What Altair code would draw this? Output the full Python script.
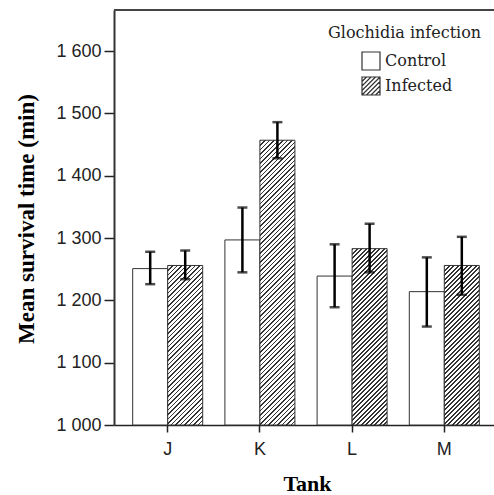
import altair as alt
import pandas as pd

# ---- data ----
tanks = ["J", "K", "L", "M"]
groups = ["Control", "Infected"]
control_mean = [1251, 1297, 1239, 1214]
control_low = [1226, 1245, 1189, 1158]
control_high = [1278, 1349, 1290, 1269]
infected_mean = [1256, 1457, 1283, 1256]
infected_low = [1234, 1428, 1245, 1209]
infected_high = [1280, 1486, 1323, 1302]
y_ticks = [1000, 1100, 1200, 1300, 1400, 1500, 1600]

Y_MIN, Y_MAX = 1000, 1666
W, H = 380, 415
INK = "#333333"
BG = "#e8e8e8"

rows = []
for i, t in enumerate(tanks):
    rows.append(dict(tank=t, group="Control", mean=control_mean[i],
                     low=control_low[i], high=control_high[i]))
    rows.append(dict(tank=t, group="Infected", mean=infected_mean[i],
                     low=infected_low[i], high=infected_high[i]))
df = pd.DataFrame(rows)

P_INNER, P_OUTER, ALIGN = 0.2408, 0.1811, 0.56
step = W / (len(tanks) - P_INNER + 2 * P_OUTER)
bar_w = step * (1 - P_INNER) / 2.0


def hatch(h_px, w_px=bar_w, period=4.5, dark=1.8):
    L = w_px + h_px
    a = L / (w_px ** 2 + h_px ** 2)
    stops = []
    pos = 0.0
    while pos < L - 1e-9:
        t0 = pos / L
        t1 = min((pos + dark) / L, 1.0)
        t2 = min((pos + period) / L, 1.0)
        stops += [{"offset": t0, "color": INK}, {"offset": t1, "color": INK},
                  {"offset": t1, "color": "white"}, {"offset": t2, "color": "white"}]
        pos += period
    return {"gradient": "linear", "x1": 0, "y1": 0, "x2": a * w_px, "y2": a * h_px,
            "stops": stops}


x_axis = alt.Axis(title="Tank", labelAngle=0, labelFont="Liberation Sans", labelFontSize=18,
                  labelColor="#222", labelPadding=8, tickSize=7, tickColor="#222",
                  tickWidth=1.5, domainColor="#222", domainWidth=1.5, grid=False,
                  titleFont="Liberation Serif", titleFontSize=22, titleFontWeight="bold",
                  titleColor="black", titleX=193, titleY=65, titleBaseline="alphabetic")
x_scale = alt.Scale(domain=tanks, paddingInner=P_INNER, paddingOuter=P_OUTER, align=ALIGN)
x_enc = alt.X("tank:N", sort=tanks, scale=x_scale, axis=x_axis)
xo_enc = alt.XOffset("group:N", scale=alt.Scale(domain=groups, paddingInner=0, paddingOuter=0))
y_scale = alt.Scale(domain=[Y_MIN, Y_MAX], nice=False, zero=False)
y_axis = alt.Axis(title="Mean survival time (min)", values=y_ticks, grid=False,
                  labelExpr="replace(format(datum.value, ','), ',', ' ')",
                  labelFont="Liberation Sans", labelFontSize=18, labelColor="#222", labelPadding=3,
                  tickSize=10, tickColor="#222", tickWidth=1.5, domainColor=INK, domainWidth=2,
                  titleFont="Liberation Serif", titleFontSize=23, titleFontWeight="bold",
                  titleColor="black", titleX=-76, titleY=H / 2 + 1, titleAngle=-90,
                  titleBaseline="bottom", titleAlign="center")


def yq(field):
    return alt.Y(f"{field}:Q", scale=y_scale, axis=y_axis)


base = alt.Chart(df)

control_bars = base.transform_filter(alt.datum.group == "Control").mark_bar(
    fill="white", stroke=INK, strokeWidth=1).encode(
    x=x_enc, xOffset=xo_enc, y=yq("mean"), y2=alt.datum(Y_MIN))

layers = [control_bars]
for i, t in enumerate(tanks):
    h_px = (infected_mean[i] - Y_MIN) * H / (Y_MAX - Y_MIN)
    lay = base.transform_filter(
        (alt.datum.group == "Infected") & (alt.datum.tank == t)).mark_bar(
        fill=hatch(h_px), stroke=INK, strokeWidth=1).encode(
        x=x_enc, xOffset=xo_enc, y=yq("mean"), y2=alt.datum(Y_MIN))
    layers.append(lay)

err = base.mark_rule(color="black", strokeWidth=2.5).encode(
    x=x_enc, xOffset=xo_enc, y=yq("low"), y2="high:Q")
cap_lo = base.mark_tick(color="black", thickness=2.5, size=10).encode(
    x=x_enc, xOffset=xo_enc, y=yq("low"))
cap_hi = base.mark_tick(color="black", thickness=2.5, size=10).encode(
    x=x_enc, xOffset=xo_enc, y=yq("high"))
layers += [err, cap_lo, cap_hi]

# legend symbols: plain square and hatched square
sq = "M-1,-1H1V1H-1Z"
hatch_path = sq
for c in [-1.5, -1.0, -0.5, 0.0, 0.5, 1.0, 1.5]:
    if c <= 0:
        hatch_path += f" M-1,{c + 1:.2f}L{c + 1:.2f},-1"
    else:
        hatch_path += f" M{c - 1:.2f},1L1,{c - 1:.2f}"

leg = alt.Legend(title="Glochidia infection", orient="none",
                 legendX=214, legendY=15, padding=0,
                 titleFont="DejaVu Serif", titleFontSize=16,
                 titleFontWeight="normal", titleColor="#222", titlePadding=10,
                 labelFont="DejaVu Serif", labelFontSize=16,
                 labelColor="#222", symbolOffset=33, labelOffset=4,
                 symbolSize=324, symbolStrokeWidth=1.2, rowPadding=1)

legend_layer = base.transform_filter("false").mark_point(
    filled=True, strokeWidth=1, opacity=1).encode(
    shape=alt.Shape("group:N", scale=alt.Scale(domain=groups, range=[sq, hatch_path]), legend=leg),
    fill=alt.Fill("group:N", scale=alt.Scale(domain=groups, range=["white", "white"]), legend=leg),
    stroke=alt.Stroke("group:N", scale=alt.Scale(domain=groups, range=[INK, INK]), legend=leg))
layers.append(legend_layer)

top_border = base.transform_aggregate(n="count()").mark_rule(
    color="#444444", strokeWidth=2).encode(y=alt.value(0))
layers.append(top_border)

chart = alt.layer(*layers).properties(
    width=W, height=H, autosize="none",
    padding={"left": 114, "top": 10, "right": 0, "bottom": 70},
).configure(background="white").configure_view(fill=BG, stroke=None)

chart.save("out.html", embed_options={"renderer": "svg", "actions": False})
